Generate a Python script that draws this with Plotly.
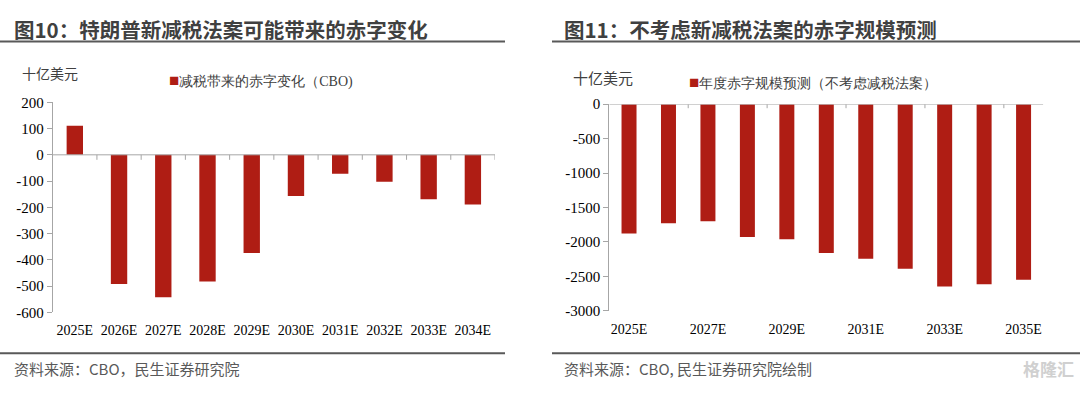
import plotly.graph_objects as go

# ---------------- data ----------------
cats_left = ["2025E", "2026E", "2027E", "2028E", "2029E",
             "2030E", "2031E", "2032E", "2033E", "2034E"]
vals_left = [111, -492, -542, -482, -374, -157, -72, -103, -169, -189]

cats_right = ["2025E", "2026E", "2027E", "2028E", "2029E", "2030E",
              "2031E", "2032E", "2033E", "2034E", "2035E"]
vals_right = [-1876, -1727, -1699, -1927, -1960, -2159,
              -2242, -2387, -2646, -2614, -2549]
ticklabels_right = ["2025E", "2027E", "2029E", "2031E", "2033E", "2035E"]

yticks_left = [200, 100, 0, -100, -200, -300, -400, -500, -600]
yticks_right = [0, -500, -1000, -1500, -2000, -2500, -3000]

title_left = "图10：特朗普新减税法案可能带来的赤字变化"
title_right = "图11：不考虑新减税法案的赤字规模预测"
legend_left = "减税带来的赤字变化（CBO)"
legend_right = "年度赤字规模预测（不考虑减税法案）"
unit_label = "十亿美元"
source_left = "资料来源：CBO，民生证券研究院"
source_right = "资料来源：CBO, 民生证券研究院绘制"

# ---------------- style ----------------
W, H = 1080, 393
BAR = "#AF1D14"
AXIS = "#a6a6a6"
DARK = "#404040"
SERIF = "Liberation Serif"
CJK = "Noto Sans CJK SC"


def px(x):
    return x / W


def py(y):
    return 1 - y / H


fig = go.Figure()
fig.add_trace(go.Bar(x=cats_left, y=vals_left, width=0.37, marker_color=BAR,
                     marker_line_width=0, xaxis="x", yaxis="y", showlegend=False))
fig.add_trace(go.Bar(x=cats_right, y=vals_right, width=0.38, marker_color=BAR,
                     marker_line_width=0, xaxis="x2", yaxis="y2", showlegend=False))

common_x = dict(type="category", showline=False, showgrid=False, zeroline=False,
                ticks="", tickfont=dict(family=SERIF, size=14, color="#000000"),
                ticklabelstandoff=8)
common_y = dict(showgrid=False, zeroline=False, showline=True, linecolor=AXIS,
                linewidth=1, ticks="outside", ticklen=5, tickcolor=AXIS,
                tickfont=dict(family=SERIF, size=15, color="#000000"),
                tickmode="array")

fig.update_layout(
    width=W, height=H, autosize=False,
    margin=dict(l=0, r=0, t=0, b=0),
    paper_bgcolor="white", plot_bgcolor="white",
    xaxis=dict(common_x, domain=[px(52.7), px(495)], range=[-0.5, 9.5], anchor="y"),
    yaxis=dict(common_y, domain=[py(317.3), py(98.3)], range=[-600, 200], anchor="x",
               tickvals=yticks_left, ticktext=[str(v) for v in yticks_left]),
    xaxis2=dict(common_x, domain=[px(609.3), px(1043.3)], range=[-0.5, 10.5], anchor="y2",
                tickmode="array", tickvals=ticklabels_right, ticktext=ticklabels_right),
    yaxis2=dict(common_y, domain=[py(315.7), py(100.3)], range=[-3000, 0], anchor="x2",
                tickvals=yticks_right, ticktext=[str(v) for v in yticks_right]),
    showlegend=False,
)

shapes = []
# zero (category) axis lines
shapes.append(dict(type="line", xref="x", yref="y", x0=-0.5, x1=len(cats_left) - 0.5,
                   y0=0, y1=0, line=dict(color=AXIS, width=1)))
shapes.append(dict(type="line", xref="x2", yref="y2", x0=-0.5, x1=len(cats_right) - 0.5,
                   y0=0, y1=0, line=dict(color=AXIS, width=1)))
# category boundary ticks
for i in range(len(cats_left)):
    shapes.append(dict(type="line", xref="x", yref="y", ysizemode="pixel", yanchor=0,
                       x0=i + 0.5, x1=i + 0.5, y0=0, y1=-5,
                       line=dict(color=AXIS, width=1)))
for i in range(1, len(cats_right) - 1, 2):
    shapes.append(dict(type="line", xref="x2", yref="y2", ysizemode="pixel", yanchor=0,
                       x0=i + 0.5, x1=i + 0.5, y0=0, y1=-4,
                       line=dict(color=AXIS, width=1)))
# header / footer rules
for (a, b) in [(0, 505), (552, 1080)]:
    shapes.append(dict(type="line", xref="paper", yref="paper", x0=px(a), x1=px(b),
                       y0=py(35), y1=py(35), line=dict(color="#595959", width=2)))
    shapes.append(dict(type="line", xref="paper", yref="paper", x0=px(a), x1=px(b),
                       y0=py(360), y1=py(360), line=dict(color="#595959", width=2)))
fig.update_layout(shapes=shapes)

ann = []


def text(x, y, s, size, color, family, bold=False, anchor="left"):
    if bold:
        s = "<b>" + s + "</b>"
    ann.append(dict(xref="paper", yref="paper", x=px(x), y=py(y), text=s,
                    showarrow=False, xanchor=anchor, yanchor="middle",
                    font=dict(size=size, color=color, family=family)))


SQ = '<span style="color:%s;font-size:17px">■</span>' % BAR
text(12, 22, title_left, 20.5, DARK, CJK, bold=True)
text(562, 22, title_right, 20.5, DARK, CJK, bold=True)
text(20, 68, unit_label, 14, "#404040", CJK)
text(571, 72, unit_label, 15, "#404040", CJK)
text(167, 76, SQ + legend_left, 14, "#404040", SERIF)
text(687, 78, SQ + legend_right, 14, "#404040", SERIF)
text(12, 376, source_left, 15, "#595959", CJK)
text(562, 376, source_right, 15, "#595959", CJK)
text(1076, 376, "格隆汇", 17, "#d0d0d0", CJK, bold=True, anchor="right")
fig.update_layout(annotations=ann)

fig.write_html("out.html", config={"displayModeBar": False},
               post_script="document.body.style.margin='0';document.body.style.overflow='hidden';")
